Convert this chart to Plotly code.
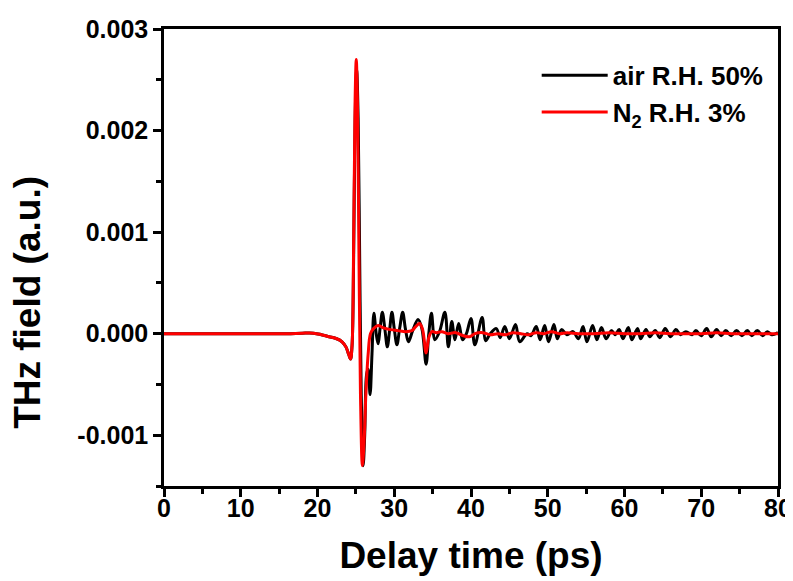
import plotly.graph_objects as go

# ---- data (extrema / key points of each trace) ----
air_t = [0, 10, 16, 18, 19.5, 20.5, 21.5, 22.5, 23.2, 23.7, 24.05, 24.3, 24.5, 24.7, 24.9, 25.1, 25.3,
         25.5, 25.7, 25.95, 26.15, 26.4, 26.6, 26.85, 27.1, 27.35, 27.65, 27.9, 28.15, 28.45, 28.8,
         29.1, 29.4, 29.7, 30.0, 30.35, 30.7, 31.1, 31.45, 31.85, 32.4, 33.1, 33.6, 34.15, 34.5,
         34.85, 35.3, 35.9, 36.6, 37.05, 37.5, 37.9, 38.4, 38.9, 39.4, 40.0, 40.5, 41.45, 41.9,
         42.5, 43.3, 43.8, 44.4, 45.0, 45.8, 46.35, 47.3, 47.8, 48.5, 49.0, 49.6, 50.1, 50.8,
         51.25, 51.8, 52.5, 53.3, 54.0, 54.6, 55.1, 55.85, 56.4, 57.0, 57.6, 58.3, 58.8, 59.3,
         59.8, 60.5, 60.95, 61.7, 62.1, 62.8, 63.3, 64.0, 64.6, 65.3, 66.0, 66.7, 67.3, 68.0,
         68.8, 69.3, 70.0, 70.7, 71.3, 72.0, 72.6, 73.2, 73.9, 74.6, 75.3, 76.0, 76.6, 77.3,
         78.0, 78.6, 79.2, 80.0]
air_v = [0, 0, 0, 0.000005, 0.000005, -0.00001, -0.00003, -0.00005, -0.00008, -0.00013, -0.0002,
         -0.00025, -0.00012, 0.0007, 0.0021, 0.0026, 0.0021, 0.0007, -0.0006, -0.0013, -0.0010,
         -0.0004, -0.00035, -0.0006, -0.0002, 0.0002, 0.0, -0.0001, 0.00005, 0.00021, 0.00003,
         -0.00013, 0.00004, 0.00021, 0.00005, -0.00011, 0.00005, 0.00021, 0.00005, -0.00008,
         0.00003, 0.00014, 0.00005, -0.0003, 0.0, 0.0002, -0.00006, 0.00002, 0.00021, -0.00013,
         0.00012, -0.00006, 0.0001, -0.00006, 0.0, 0.00015, -0.00011, 0.00016, -0.00007, 0.0,
         0.00005, -0.00004, 0.00007, -0.00005, 0.00009, -0.00008, 0.0, -0.00002, 0.00007,
         -0.00006, 0.00008, -0.00008, 0.00009, -0.00005, 0.00004, -0.00001, 0.00002, -0.00005,
         0.00007, -0.00008, 0.00008, -0.00006, 0.00006, -0.00005, 0.00003, -0.00001, 0.00004,
         -0.00005, 0.00006, -0.00006, 0.00005, -0.00005, 0.00004, -0.00003, 0.00003, -0.00004,
         0.00005, -0.00003, 0.00004, -0.00001, 0.00002, -0.00001, 0.00003, -0.00002, 0.00005,
         -0.00003, 0.00004, -0.00002, 0.00003, -0.00002, 0.00003, -0.00002, 0.00003, -0.00002,
         0.00003, -0.00002, 0.00002, -0.00001, 0.00001]

n2_t = [0, 10, 16, 18, 19.5, 20.5, 21.5, 22.5, 23.2, 23.7, 24.05, 24.3, 24.5, 24.7, 24.9, 25.05,
        25.2, 25.4, 25.6, 25.85, 26.05, 26.3, 26.6, 26.9, 27.3, 27.9, 28.5, 29.5, 30.5, 31.5,
        32.3, 32.8, 33.3, 33.7, 34.15, 34.5, 34.9, 35.5, 36.2, 37.0, 38.0, 39.0, 39.8, 40.5,
        41.5, 42.5, 43.5, 44.5, 45.5, 46.5, 47.5, 48.5, 49.5, 50.5, 51.5, 52.5, 54.0, 56.0,
        58.0, 60.0, 62.0, 64.0, 66.0, 68.0, 70.0, 72.0, 74.0, 76.0, 78.0, 80.0]
n2_v = [0, 0, 0, 0.000005, 0.000005, -0.00001, -0.00003, -0.00005, -0.00008, -0.00013, -0.0002,
        -0.00025, -0.00012, 0.0008, 0.0023, 0.0027, 0.0023, 0.0008, -0.0006, -0.0013, -0.0011,
        -0.0006, -0.0002, 0.0, 0.00005, 0.00008, 0.00006, 0.00004, 0.00003, 0.00002, 0.00003,
        0.00007, 0.0001, 0.00004, -0.00019, -0.00004, 0.00002, 0.00001, 0.00002, 0.0, 0.00001,
        -0.00002, -0.00003, 0.0, 0.00001, -0.00001, 0.0, -0.00001, 0.00001, 0.0, -0.00001,
        0.00001, 0.0, 0.00002, 0.0, 0.00001, 0.0, 0.0, 0.00001, 0.0, 0.0, 0.00001, 0.0, 0.0,
        0.0, 0.00001, 0.0, 0.0, 0.0, 0.0]

x_ticks = [0, 10, 20, 30, 40, 50, 60, 70, 80]
y_ticks = [-0.001, 0.0, 0.001, 0.002, 0.003]
y_labels = ["-0.001", "0.000", "0.001", "0.002", "0.003"]

FONT = "Liberation Sans, Arial, sans-serif"

fig = go.Figure()
fig.add_trace(go.Scatter(x=air_t, y=air_v, mode="lines", name="air R.H. 50%",
                         line=dict(color="black", width=3, shape="spline", smoothing=1.0)))
fig.add_trace(go.Scatter(x=n2_t, y=n2_v, mode="lines", name="N<sub>2</sub> R.H. 3%",
                         line=dict(color="#ff0000", width=3, shape="spline", smoothing=1.0)))

axis_common = dict(showline=True, linecolor="black", linewidth=2.5, mirror=True,
                   ticks="outside", ticklen=8, tickwidth=2.5, tickcolor="black",
                   showgrid=False, zeroline=False, automargin=False,
                   tickfont=dict(family=FONT, size=25, color="black", weight="bold"))

fig.update_xaxes(range=[0, 80], tickmode="array", tickvals=x_ticks,
                 ticktext=[str(v) for v in x_ticks], ticklabelstandoff=-10,
                 minor=dict(ticks="outside", ticklen=5, tickwidth=2.5, tickcolor="black", dtick=5),
                 title=dict(text="Delay time (ps)", standoff=22,
                            font=dict(family=FONT, size=37, color="black", weight="bold")),
                 **axis_common)
fig.update_yaxes(range=[-0.0015, 0.003], tickmode="array", tickvals=y_ticks, ticktext=y_labels,
                 minor=dict(ticks="outside", ticklen=5, tickwidth=2.5, tickcolor="black", dtick=0.0005,
                            tick0=0),
                 **axis_common)

# y-axis title (placed as in the reference, below the vertical centre)
fig.add_annotation(text="THz field (a.u.)", textangle=-90, xref="paper", yref="paper",
                   x=-0.2215, y=0.403, xanchor="center", yanchor="middle", showarrow=False,
                   font=dict(family=FONT, size=37, color="black", weight="bold"))

fig.update_layout(
    width=793, height=581,
    margin=dict(l=156, r=23, t=21, b=103),
    plot_bgcolor="white", paper_bgcolor="white",
    legend=dict(x=0.607, y=0.95, xanchor="left", yanchor="top",
                bgcolor="rgba(0,0,0,0)", itemwidth=66,
                font=dict(family=FONT, size=26, color="black", weight="bold"),
                tracegroupgap=0),
)

fig.write_html("out.html")
